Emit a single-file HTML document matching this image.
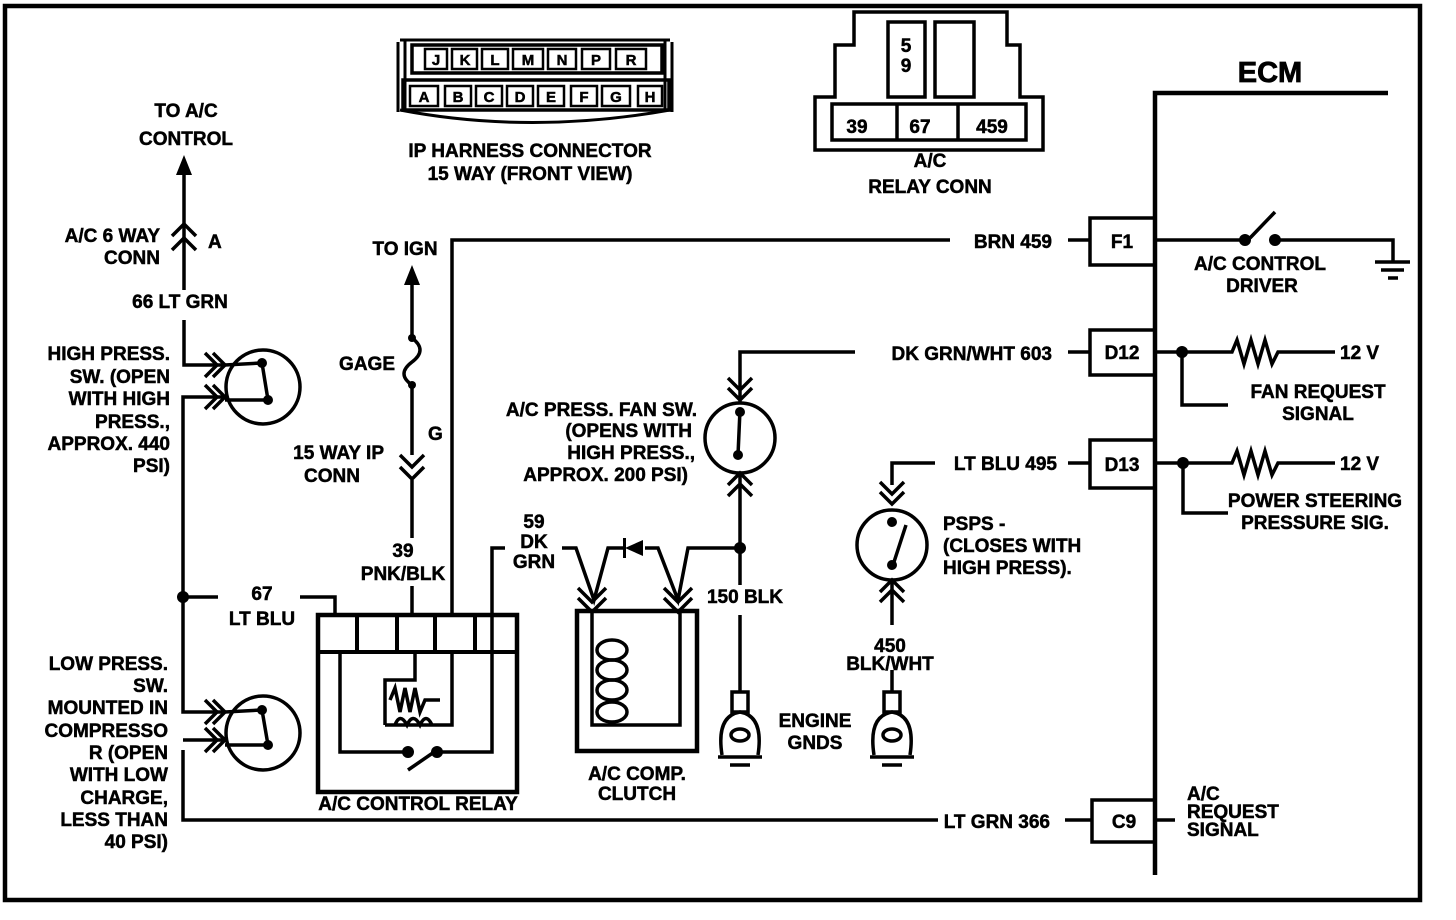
<!DOCTYPE html>
<html><head><meta charset="utf-8"><style>
html,body{margin:0;padding:0;background:#fff;}
svg{display:block;}
text{font-family:"Liberation Sans",sans-serif;font-weight:bold;fill:#000;font-size:19px;stroke:#000;stroke-width:0.5px;}
text.s{font-size:15px;}
text.big{font-size:29px;stroke-width:0.8px;}
</style></head><body>
<svg width="1456" height="920" viewBox="0 0 1456 920" xmlns="http://www.w3.org/2000/svg">
<g fill="none" stroke="#000" stroke-width="3.5">
<rect x="5" y="6" width="1415" height="894" stroke-width="4.5"/>
<path d="M400 40 L670 40 M398 42 L398 112 M672 42 L672 112 M405 40 L405 110 L665 110 L665 40 M400 110 Q530 135 670 110" stroke-width="3"/>
<rect x="412" y="45" width="250" height="28"/>
<rect x="403" y="80" width="266" height="30"/>
<g stroke-width="2.5">
<rect x="425" y="49" width="22" height="20"/><rect x="452" y="49" width="25" height="20"/><rect x="482" y="49" width="26" height="20"/><rect x="513" y="49" width="30" height="20"/><rect x="548" y="49" width="28" height="20"/><rect x="582" y="49" width="28" height="20"/><rect x="616" y="49" width="30" height="20"/>
<rect x="410" y="86" width="28" height="20"/><rect x="445" y="86" width="26" height="20"/><rect x="476" y="86" width="26" height="20"/><rect x="507" y="86" width="26" height="20"/><rect x="538" y="86" width="26" height="20"/><rect x="571" y="86" width="26" height="20"/><rect x="602" y="86" width="28" height="20"/><rect x="638" y="86" width="24" height="20"/>
</g>
<path d="M854 12 L1007 12 L1007 45 L1020 45 L1020 97 L1043 97 L1043 150 L815 150 L815 97 L835 97 L835 45 L854 45 Z"/>
<rect x="888" y="22" width="37" height="75"/><rect x="935" y="22" width="39" height="75"/>
<rect x="832" y="104" width="194" height="36"/><path d="M897 104 L897 140 M958 104 L958 140"/>
<path d="M1155 875 L1155 93 L1388 93" stroke-width="4.5"/>
<rect x="1090" y="218" width="65" height="47"/>
<rect x="1090" y="330" width="65" height="45"/>
<rect x="1090" y="440" width="65" height="48"/>
<rect x="1092" y="800" width="63" height="42"/>
<path d="M452 615 L452 240 L950 240 M1068 240 L1090 240 M1155 240 L1245 240 M1250 238 L1275 212 M1278 240 L1393 240 L1393 262 M1375 262 L1410 262 M1381 270 L1404 270 M1388 278 L1398 278"/>
<path d="M740 375 L740 352 L855 352 M1068 352 L1090 352 M1155 352 L1232 352 L1237 340 L1244 364 L1251 340 L1258 364 L1265 340 L1272 364 L1278 352 L1335 352 M1182 352 L1182 405 L1228 405"/>
<path d="M892 485 L892 463 L935 463 M1068 463 L1090 463 M1155 463 L1232 463 L1237 451 L1244 475 L1251 451 L1258 475 L1265 451 L1272 475 L1278 463 L1335 463 M1183 463 L1183 513 L1228 513"/>
<path d="M183 750 L183 820 L938 820 M1065 820 L1092 820 M1155 820 L1175 820"/>
<path d="M184 175 L184 290 M184 320 L184 365 L225 365 M225 397 L183 397 L183 712 L225 712 M225 740 L183 740 M183 597 L218 597 M300 597 L335 597 L335 615"/>
<path d="M172 236 L184 224 L196 236 M172 250 L184 238 L196 250"/>
<path d="M205 353 L217 365 L205 377 M213 353 L225 365 L213 377 M205 385 L217 397 L205 409 M213 385 L225 397 L213 409"/>
<path d="M205 700 L217 712 L205 724 M213 700 L225 712 L213 724 M205 728 L217 740 L205 752 M213 728 L225 740 L213 752"/>
<circle cx="263" cy="387" r="37"/><circle cx="263" cy="733" r="37"/>
<path d="M225 365 L262 363 L268 400 L225 400 M225 712 L262 710 L268 745 L225 745"/>
<path d="M412 270 L412 338 Q428 350 412 362 Q396 374 412 385 L412 455 M412 480 L412 538 M412 586 L412 615"/>
<path d="M400 455 L412 467 L424 455 M400 467 L412 479 L424 467"/>
<rect x="318" y="615" width="199" height="177" stroke-width="4.5"/>
<path d="M318 652 L517 652 M357 615 L357 652 M397 615 L397 652 M435 615 L435 652 M475 615 L475 652" stroke-width="4"/>
<path d="M340 652 L340 752 L406 752 M437 752 L492 752 L492 652 L492 615 L492 548 L505 548 M415 652 L415 680 L385 680 L385 725 M452 652 L452 725 L385 725 M390 700 L395 688 L400 712 L405 688 L410 712 L415 688 L420 712 L425 700 L440 700 M395 725 Q400 712 407 725 Q413 712 420 725 Q426 712 432 725" />
<path d="M408 770 L440 748"/>
<rect x="577" y="611" width="120" height="140" stroke-width="4.5"/>
<path d="M592 611 L592 725 L680 725 L680 611"/>
<ellipse cx="612" cy="650" rx="15" ry="10"/><ellipse cx="612" cy="670" rx="15" ry="10"/><ellipse cx="612" cy="690" rx="15" ry="10"/><ellipse cx="612" cy="712" rx="15" ry="10"/>
<path d="M562 548 L576 548 L594 600 L608 548 L625 548 M645 548 L658 548 L678 600 L688 548 L740 548"/>
<path d="M578 588 L592 602 L606 588 M578 598 L592 612 L606 598 M664 588 L678 602 L692 588 M664 598 L678 612 L692 598"/>
<circle cx="740" cy="438" r="35"/>
<path d="M740 375 L740 403 M728 378 L740 390 L752 378 M728 388 L740 400 L752 388 M740 472 L740 585 M728 485 L740 473 L752 485 M728 496 L740 484 L752 496 M740 410 L738 455"/>
<path d="M740 615 L740 692"/>
<rect x="732" y="692" width="16" height="20"/>
<path d="M722 755 Q716 716 740 712 Q764 716 758 755"/><ellipse cx="740" cy="735" rx="9" ry="6"/>
<path d="M718 757 L762 757 M730 765 L750 765"/>
<path d="M892 670 L892 692"/>
<rect x="884" y="692" width="16" height="20"/>
<path d="M874 755 Q868 716 892 712 Q916 716 910 755"/><ellipse cx="892" cy="735" rx="9" ry="6"/>
<path d="M870 757 L914 757 M882 765 L902 765"/>
<circle cx="892" cy="545" r="35"/>
<path d="M880 482 L892 494 L904 482 M880 492 L892 504 L904 492 M892 580 L892 625 M880 592 L892 580 L904 592 M880 602 L892 590 L904 602 M906 525 L893 565"/>
</g>
<g fill="#000">
<circle cx="262" cy="363" r="5"/><circle cx="268" cy="400" r="5"/><circle cx="262" cy="710" r="5"/><circle cx="268" cy="745" r="5"/>
<circle cx="183" cy="597" r="6"/><circle cx="740" cy="548" r="6"/><circle cx="1182" cy="352" r="6"/><circle cx="1183" cy="463" r="6"/>
<circle cx="1245" cy="240" r="6"/><circle cx="1275" cy="240" r="6"/>
<circle cx="740" cy="412" r="5"/><circle cx="738" cy="455" r="5"/><circle cx="892" cy="522" r="5"/><circle cx="892" cy="565" r="5"/>
<circle cx="412" cy="338" r="4"/><circle cx="412" cy="385" r="4"/>
<circle cx="408" cy="752" r="6"/><circle cx="437" cy="752" r="6"/>
<polygon points="184,155 176,175 192,175"/><polygon points="412,265 404,285 420,285"/>
<polygon points="625,548 643,540 643,556"/><rect x="623" y="538" width="3" height="20"/>
</g>
<g text-anchor="middle">
<text class="s" x="436" y="65">J</text><text class="s" x="465" y="65">K</text><text class="s" x="495" y="65">L</text><text class="s" x="528" y="65">M</text><text class="s" x="562" y="65">N</text><text class="s" x="596" y="65">P</text><text class="s" x="631" y="65">R</text>
<text class="s" x="424" y="102">A</text><text class="s" x="458" y="102">B</text><text class="s" x="489" y="102">C</text><text class="s" x="520" y="102">D</text><text class="s" x="551" y="102">E</text><text class="s" x="584" y="102">F</text><text class="s" x="616" y="102">G</text><text class="s" x="650" y="102">H</text>
<text x="530" y="157">IP HARNESS CONNECTOR</text><text x="530" y="180">15 WAY (FRONT VIEW)</text>
<text x="906" y="52">5</text><text x="906" y="72">9</text>
<text x="857" y="133">39</text><text x="920" y="133">67</text><text x="992" y="133">459</text>
<text x="930" y="167">A/C</text><text x="930" y="193">RELAY CONN</text>
<text class="big" x="1270" y="82">ECM</text>
<text x="1122" y="248">F1</text><text x="1122" y="359">D12</text><text x="1122" y="471">D13</text><text x="1124" y="828">C9</text>
<text x="1260" y="270">A/C CONTROL</text><text x="1262" y="292">DRIVER</text>
<text x="1318" y="398">FAN  REQUEST</text><text x="1318" y="420">SIGNAL</text>
<text x="1315" y="507">POWER STEERING</text><text x="1315" y="529">PRESSURE SIG.</text>
<text x="186" y="117">TO A/C</text><text x="186" y="145">CONTROL</text>
<text x="180" y="308">66 LT GRN</text>
<text x="262" y="600">67</text><text x="262" y="625">LT BLU</text>
<text x="405" y="255">TO IGN</text>
<text x="403" y="557">39</text><text x="403" y="580">PNK/BLK</text>
<text x="534" y="528">59</text><text x="534" y="548">DK</text><text x="534" y="568">GRN</text>
<text x="418" y="810">A/C CONTROL RELAY</text>
<text x="637" y="780">A/C COMP.</text><text x="637" y="800">CLUTCH</text>
<text x="745" y="603">150 BLK</text>
<text x="815" y="727">ENGINE</text><text x="815" y="749">GNDS</text>
<text x="890" y="652">450</text><text x="890" y="670">BLK/WHT</text>
</g>
<g text-anchor="end">
<text x="160" y="242">A/C 6 WAY</text><text x="160" y="264">CONN</text>
<text x="170" y="360">HIGH PRESS.</text><text x="170" y="383">SW.  (OPEN</text><text x="170" y="405">WITH HIGH</text><text x="170" y="428">PRESS.,</text><text x="170" y="450">APPROX. 440</text><text x="170" y="472">PSI)</text>
<text x="168" y="670">LOW PRESS.</text><text x="168" y="692">SW.</text><text x="168" y="714">MOUNTED IN</text><text x="168" y="737">COMPRESSO</text><text x="168" y="759">R (OPEN</text><text x="168" y="781">WITH LOW</text><text x="168" y="804">CHARGE,</text><text x="168" y="826">LESS THAN</text><text x="168" y="848">40 PSI)</text>
<text x="395" y="370">GAGE</text>
<text x="384" y="459">15 WAY IP</text><text x="360" y="482">CONN</text>
<text x="697" y="416">A/C PRESS. FAN SW.</text><text x="692" y="437">(OPENS WITH</text><text x="695" y="459">HIGH PRESS.,</text><text x="688" y="481">APPROX. 200 PSI)</text>
<text x="1052" y="248">BRN  459</text><text x="1052" y="360">DK GRN/WHT  603</text><text x="1057" y="470">LT BLU 495</text><text x="1050" y="828">LT GRN 366</text>
</g>
<text x="208" y="248">A</text><text x="428" y="440">G</text>
<text x="943" y="530">PSPS  -</text><text x="943" y="552">(CLOSES WITH</text><text x="943" y="574">HIGH PRESS).</text>
<text x="1340" y="359">12 V</text><text x="1340" y="470">12 V</text>
<text x="1187" y="800">A/C</text><text x="1187" y="818">REQUEST</text><text x="1187" y="836">SIGNAL</text>
</svg>
</body></html>
